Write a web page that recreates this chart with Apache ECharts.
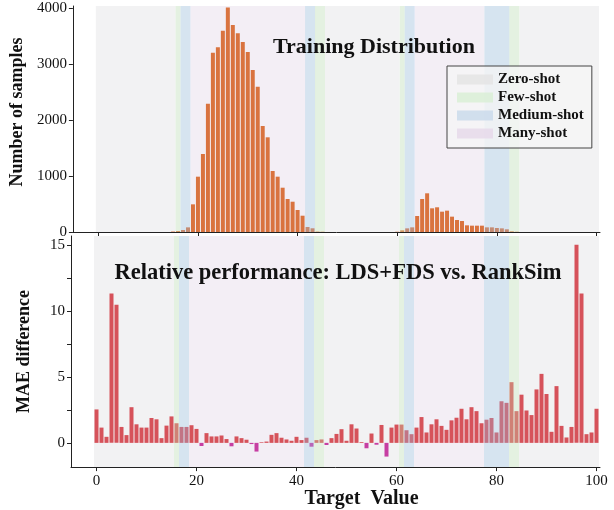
<!DOCTYPE html>
<html>
<head>
<meta charset="utf-8">
<script src="https://cdn.jsdelivr.net/npm/echarts@6/dist/echarts.min.js"></script>
<style>
  html, body { margin: 0; padding: 0; background: #fff; }
  #main { width: 614px; height: 510px; }
</style>
</head>
<body>
<div id="main"></div>
<script>
// target values 0..100
const targets = [];
for (let i = 0; i <= 100; i++) targets.push(i);

// training histogram, one count per target value
const trainCounts = [
  0, 0, 0, 0, 0, 0, 0, 0, 0, 0,
  0, 0, 0, 0, 0, 8, 18, 36, 83, 494,
  988, 1393, 2292, 3203, 3298, 3596, 4010, 3697, 3548, 3393,
  3215, 2893, 2595, 1893, 1691, 1089, 988, 791, 589, 541,
  393, 291, 89, 66, 8, 5, 0, 0, 0, 0,
  0, 0, 0, 0, 0, 0, 0, 0, 0, 0,
  5, 30, 65, 83, 286, 589, 691, 423, 441, 363,
  381, 274, 214, 196, 119, 113, 113, 113, 83, 83,
  71, 65, 48, 12, 5, 0, 0, 0, 0, 0,
  0, 0, 0, 0, 0, 0, 0, 0, 0, 0,
  0
];

// MAE difference per target value
const maeDiff = [
  2.54, 1.16, 0.46, 11.34, 10.49, 1.21, 0.59, 2.71, 1.41, 1.16,
  1.16, 1.89, 1.79, 0.36, 1.31, 2.01, 1.49, 1.21, 1.21, 1.34,
  1.06, -0.24, 0.74, 0.49, 0.49, 0.56, 0.29, -0.26, 0.49, 0.36,
  0.24, -0.09, -0.66, 0.05, 0.1, 0.61, 0.74, 0.39, 0.26, 0.16,
  0.46, 0.21, 0.39, -0.29, 0.21, 0.26, -0.16, 0.36, 0.68, 1.04,
  0.16, 1.41, 1.09, 0.06, -0.41, 0.71, -0.14, 1.36, -1.04, 1.16,
  1.39, 1.39, 0.96, 0.66, 1.16, 1.96, 0.79, 1.41, 1.79, 1.29,
  0.99, 1.71, 1.91, 2.59, 1.79, 2.71, 2.41, 1.49, 1.76, 1.89,
  0.79, 3.16, 3.04, 4.61, 2.41, 3.66, 2.46, 2.11, 4.06, 5.24,
  3.71, 0.84, 4.31, 1.29, 0.41, 1.21, 15.04, 11.34, 0.66, 0.79,
  2.59
];

// shot regions
const regionEdges = [-0.5, 15.5, 16.5, 18.5, 41.5, 43.5, 45.5, 60.5, 61.5, 63.5, 77.5, 82.5, 84.5, 100.5];
const regionKinds = ['Zero-shot', 'Few-shot', 'Medium-shot', 'Many-shot', 'Medium-shot', 'Few-shot',
  'Zero-shot', 'Few-shot', 'Medium-shot', 'Many-shot', 'Medium-shot', 'Few-shot', 'Zero-shot'];
const shotNames = ['Zero-shot', 'Few-shot', 'Medium-shot', 'Many-shot'];

// tick labels
const xTicks = [0, 20, 40, 60, 80, 100];
const countTicks = [0, 1000, 2000, 3000, 4000];
const maeLabels = [0, 5, 10, 15];
const maeTicks = [0, 2.5, 5, 7.5, 10, 12.5, 15];

const serif = "'Liberation Serif', 'DejaVu Serif', serif";
const legendColors = { 'Zero-shot': '#e3e3e3', 'Few-shot': '#d8efd5', 'Medium-shot': '#c8daeb', 'Many-shot': '#e6d8ea' };
const baseColors = { 'Zero-shot': '#f2f2f3', 'Few-shot': '#f2f2f3', 'Medium-shot': '#f2f2f3', 'Many-shot': '#f3eef5' };
const overColors = { 'Few-shot': 'rgba(195,240,185,0.3)', 'Medium-shot': 'rgba(150,195,235,0.3)' };

let baseRegions = [];
let overRegions = [];
for (let i = 0; i < regionKinds.length; i++) {
  baseRegions.push([regionEdges[i], regionEdges[i + 1], i]);
  if (overColors[regionKinds[i]]) overRegions.push([regionEdges[i], regionEdges[i + 1], i]);
}

function regionRenderer(colors) {
  return function (params, api) {
    let cs = params.coordSys;
    let p0 = api.coord([api.value(0), 0]);
    let p1 = api.coord([api.value(1), 0]);
    let kind = regionKinds[api.value(2)];
    return {
      type: 'rect',
      shape: { x: p0[0], y: cs.y, width: p1[0] - p0[0], height: cs.height },
      style: { fill: colors[kind] }
    };
  };
}

// bars of width 0.8 around each target value
function barRenderer(colorFn) {
  return function (params, api) {
    let x = api.value(0), y = api.value(1);
    let a = api.coord([x - 0.4, y]);
    let b = api.coord([x + 0.4, 0]);
    return {
      type: 'rect',
      shape: { x: a[0], y: Math.min(a[1], b[1]), width: b[0] - a[0], height: Math.abs(b[1] - a[1]) },
      style: { fill: colorFn(y) }
    };
  };
}

function xAxisCfg(gridIndex, showLabels) {
  return {
    type: 'value', gridIndex: gridIndex, min: -5.1, max: 100.7,
    splitLine: { show: false },
    axisLine: { onZero: false, lineStyle: { color: '#222', width: 1 } },
    axisTick: { show: true, customValues: xTicks, length: 4, lineStyle: { color: '#222' } },
    axisLabel: { show: showLabels, customValues: xTicks, color: '#111', fontFamily: serif, fontSize: 15, margin: 6 },
    name: showLabels ? 'Target  Value' : '',
    nameLocation: 'middle', nameGap: 11,
    nameTextStyle: { fontFamily: serif, fontSize: 20, fontWeight: 'bold', color: '#111', padding: [0, 0, 0, 52] }
  };
}

function yAxisCfg(gridIndex, min, max, ticks, labels, name, pad) {
  return {
    type: 'value', gridIndex: gridIndex, min: min, max: max,
    splitLine: { show: false },
    axisLine: { show: true, onZero: false, lineStyle: { color: '#222', width: 1 } },
    axisTick: { show: true, customValues: ticks, length: 4, lineStyle: { color: '#222' } },
    axisLabel: { customValues: labels, color: '#111', fontFamily: serif, fontSize: 15, margin: 6,
      formatter: function (v) { return String(v); } },
    name: name, nameLocation: 'middle', nameGap: 38,
    nameTextStyle: { fontFamily: serif, fontSize: 18, fontWeight: 'bold', color: '#111', padding: [0, 0, 0, pad] }
  };
}

let chart = echarts.init(document.getElementById('main'));

let legendSeries = shotNames.map(function (n) {
  return { name: n, type: 'scatter', xAxisIndex: 0, yAxisIndex: 0, data: [], itemStyle: { color: legendColors[n] } };
});

chart.setOption({
  animation: false,
  title: [
    { text: 'Training Distribution', left: 369, top: 31, textAlign: 'center',
      textStyle: { fontFamily: serif, fontSize: 22, fontWeight: 'bold', color: '#111' } },
    { text: 'Relative performance: LDS+FDS vs. RankSim', left: 333, top: 257, textAlign: 'center',
      textStyle: { fontFamily: serif, fontSize: 22.5, fontWeight: 'bold', color: '#111' } }
  ],
  legend: {
    data: shotNames, orient: 'vertical', left: 447, top: 66, z: 10,
    icon: 'rect', itemWidth: 36, itemHeight: 10, itemGap: 3,
    padding: [6, 8, 7, 10],
    backgroundColor: 'rgba(246,246,246,0.75)', borderColor: '#444', borderWidth: 1,
    textStyle: { fontFamily: serif, fontSize: 15, fontWeight: 'bold', color: '#111', lineHeight: 15 }
  },
  grid: [
    { left: 71, right: 14, top: 6, height: 226 },
    { left: 71, right: 14, top: 236, height: 234 }
  ],
  xAxis: [xAxisCfg(0, false), xAxisCfg(1, true)],
  yAxis: [
    yAxisCfg(0, 0, 4036, countTicks, countTicks, 'Number of samples', 14),
    yAxisCfg(1, -1.84, 15.71, maeTicks, maeLabels, 'MAE difference', 0)
  ],
  series: [
    { type: 'custom', xAxisIndex: 0, yAxisIndex: 0, z: 1, silent: true,
      renderItem: regionRenderer(baseColors), data: baseRegions },
    { type: 'custom', xAxisIndex: 1, yAxisIndex: 1, z: 1, silent: true,
      renderItem: regionRenderer(baseColors), data: baseRegions },
    { type: 'custom', xAxisIndex: 0, yAxisIndex: 0, z: 2, silent: true,
      renderItem: barRenderer(function () { return '#d9733f'; }),
      data: targets.map(function (t, i) { return [t, trainCounts[i]]; }) },
    { type: 'custom', xAxisIndex: 1, yAxisIndex: 1, z: 2, silent: true,
      renderItem: barRenderer(function (v) { return v < 0 ? '#c63ea2' : '#d6525a'; }),
      data: targets.map(function (t, i) { return [t, maeDiff[i]]; }) },
    { type: 'custom', xAxisIndex: 0, yAxisIndex: 0, z: 3, silent: true,
      renderItem: regionRenderer(overColors), data: overRegions },
    { type: 'custom', xAxisIndex: 1, yAxisIndex: 1, z: 3, silent: true,
      renderItem: regionRenderer(overColors), data: overRegions }
  ].concat(legendSeries)
});

window.addEventListener('resize', function () {
  chart.resize();
});
</script>
</body>
</html>
